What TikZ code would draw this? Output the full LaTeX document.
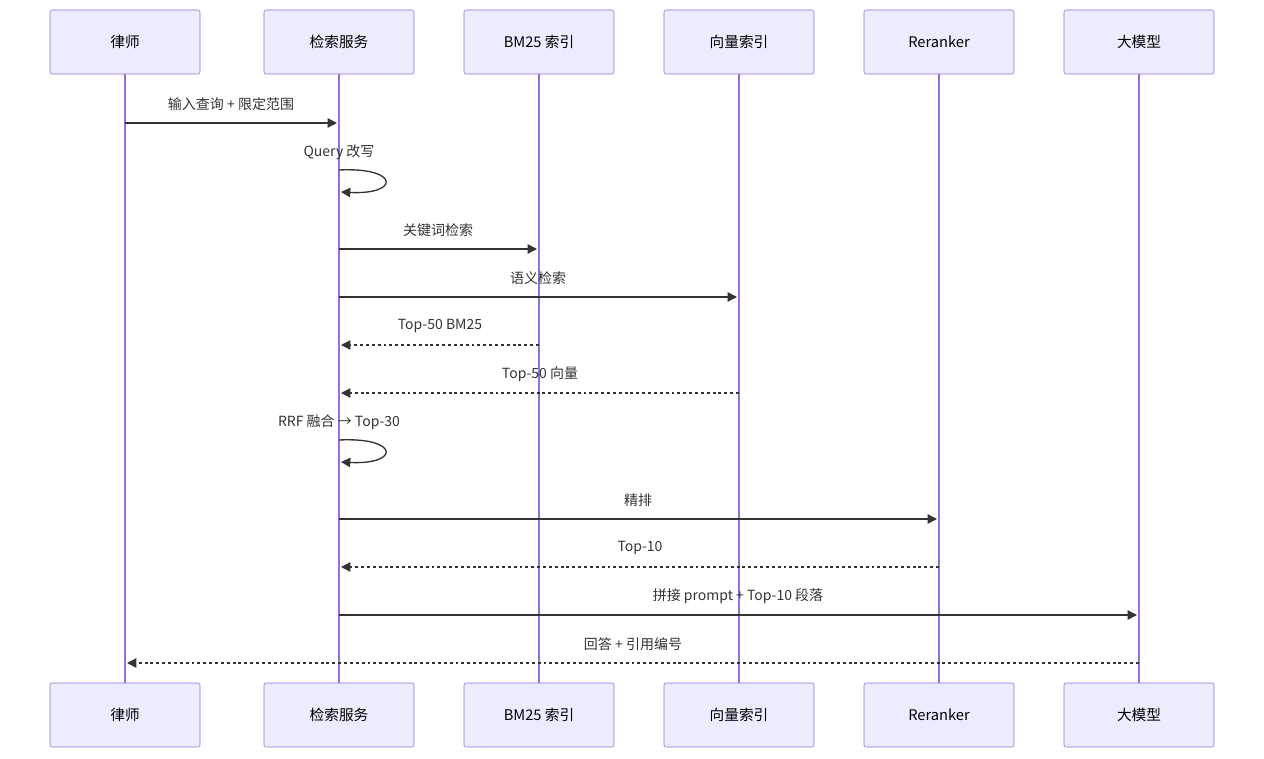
\documentclass[tikz,border=0pt]{standalone}
\usepackage{fontspec}
\setmainfont{Noto Sans CJK SC}
\usetikzlibrary{arrows.meta}
\definecolor{actfill}{HTML}{ECECFF}
\definecolor{actline}{HTML}{9370DB}
\definecolor{msg}{HTML}{333333}
\begin{document}
\begin{tikzpicture}[x=0.75pt,y=-0.75pt,
  actor/.style={draw=actline,fill=actfill,minimum width=112.5pt,minimum height=48pt,rounded corners=1.5pt,font=\fontsize{11}{13}\selectfont,inner sep=0pt},
  life/.style={draw=actline,line width=1.2pt},
  m/.style={draw=msg,line width=1pt,-{Triangle[length=7pt,width=7pt]}},
  r/.style={m,dash pattern=on 2.2pt off 2.2pt},
  lab/.style={font=\fontsize{10.5}{12}\selectfont,text=msg,inner sep=0pt}]
\useasboundingbox (0,0) rectangle (1264,759);
\foreach \n/\x/\t in {a/125/律师,b/339/检索服务,c/539/BM25 索引,d/739/向量索引,e/939/Reranker,f/1139/大模型}{
  \draw[life] (\x,74) -- (\x,683);
  \node[actor] (\n t) at (\x,42) {\t};
  \node[actor] (\n b) at (\x,715) {\t};
}
\foreach \y/\fx/\tx/\s/\t in {123/125/337/m/输入查询 + 限定范围,249/339/537/m/关键词检索,297/339/737/m/语义检索,345/539/341/r/Top-50 BM25,393/739/341/r/Top-50 向量,519/339/937/m/精排,567/939/341/r/Top-10,615/339/1137/m/拼接 prompt + Top-10 段落,663/1139/127/r/回答 + 引用编号}{
  \coordinate (s) at (\fx,\y); \coordinate (t) at (\tx,\y);
  \draw[\s] (s) -- (t);
  \node[lab] at ({(\fx+\tx)/2},\y-19) {\t};
}
\foreach \y/\t in {170/Query 改写,440/RRF 融合 → Top-30}{
  \coordinate (p) at (339,\y); \coordinate (q) at (341,\y+22);
  \draw[m] (p) .. controls (400,\y-3) and (400,\y+25) .. (q);
  \node[lab] at (339,\y-18) {\t};
}
\end{tikzpicture}
\end{document}
